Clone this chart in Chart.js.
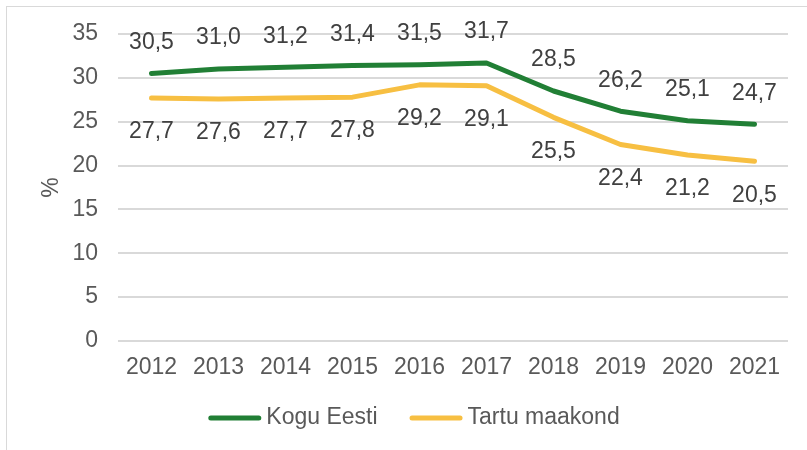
<!DOCTYPE html>
<html>
<head>
<meta charset="utf-8">
<script src="https://cdn.jsdelivr.net/npm/chart.js@4"></script>
<style>
  html, body { margin: 0; padding: 0; background: #fff; overflow: hidden; }
  #wrap { position: relative; width: 807px; height: 450px; }
  #frame { position: absolute; left: 6px; top: 6px; width: 820px; height: 460px; border: 1px solid #d9d9d9; }
  canvas { position: absolute; left: 0; top: 0; }
</style>
</head>
<body>
<div id="wrap">
  <div id="frame"></div>
  <canvas id="chart" width="807" height="450"></canvas>
</div>
<script>
const aastad = ['2012', '2013', '2014', '2015', '2016', '2017', '2018', '2019', '2020', '2021'];
const koguEesti = [30.5, 31.0, 31.2, 31.4, 31.5, 31.7, 28.5, 26.2, 25.1, 24.7];
const tartuMaakond = [27.7, 27.6, 27.7, 27.8, 29.2, 29.1, 25.5, 22.4, 21.2, 20.5];
const yTicks = [0, 5, 10, 15, 20, 25, 30, 35];

const fontFamily = '"Liberation Sans", Arial, sans-serif';
const fontSize = 23;

// Väärtuste sildid (roheline üleval, kollane all)
const siltidePlugin = {
    id: 'sildid',
    afterDatasetsDraw(chart) {
        const ctx = chart.ctx;
        ctx.save();
        ctx.font = fontSize + 'px ' + fontFamily;
        ctx.fillStyle = '#404040';
        ctx.textAlign = 'center';
        ctx.textBaseline = 'middle';
        chart.data.datasets.forEach((ds, i) => {
            const meta = chart.getDatasetMeta(i);
            meta.data.forEach((pt, j) => {
                const nihe = i === 0 ? -31 : 34;
                ctx.fillText(ds.data[j].toFixed(1).replace('.', ','), pt.x, pt.y + nihe);
            });
        });
        ctx.restore();
    }
};

// Legend käsitsi, et joon ja tekst oleks nagu Excelis
const legendPlugin = {
    id: 'legendKasitsi',
    afterDraw(chart) {
        const ctx = chart.ctx;
        ctx.save();
        ctx.font = fontSize + 'px ' + fontFamily;
        ctx.textBaseline = 'middle';
        ctx.textAlign = 'left';
        const joon = 53, vahe = 5, samm = 32;
        const laiused = chart.data.datasets.map(ds => ctx.measureText(ds.label).width);
        let kokku = 0;
        laiused.forEach((w, i) => { kokku += joon + vahe + w + (i > 0 ? samm : 0); });
        let x = 414 - kokku / 2;
        const y = 418;
        chart.data.datasets.forEach((ds, i) => {
            ctx.strokeStyle = ds.borderColor;
            ctx.lineWidth = 5;
            ctx.lineCap = 'round';
            ctx.beginPath();
            ctx.moveTo(x + 2.5, y);
            ctx.lineTo(x + joon - 2.5, y);
            ctx.stroke();
            ctx.fillStyle = '#595959';
            ctx.fillText(ds.label, x + joon + vahe, y);
            x += joon + vahe + laiused[i] + samm;
        });
        ctx.restore();
    }
};

const ctx = document.getElementById('chart').getContext('2d');
new Chart(ctx, {
    type: 'line',
    data: {
        labels: aastad,
        datasets: [{
            label: 'Kogu Eesti',
            data: koguEesti,
            borderColor: '#217f35',
            backgroundColor: '#217f35',
            borderWidth: 5,
            pointRadius: 0,
            tension: 0,
            borderCapStyle: 'round',
            borderJoinStyle: 'round'
        }, {
            label: 'Tartu maakond',
            data: tartuMaakond,
            borderColor: '#f7bf42',
            backgroundColor: '#f7bf42',
            borderWidth: 5,
            pointRadius: 0,
            tension: 0,
            borderCapStyle: 'round',
            borderJoinStyle: 'round'
        }]
    },
    options: {
        responsive: false,
        animation: false,
        layout: { padding: { top: 34, right: 19, bottom: 0, left: 0 } },
        scales: {
            x: {
                offset: true,
                grid: { display: false, drawTicks: false },
                border: { display: false },
                ticks: { color: '#595959', font: { size: fontSize, family: fontFamily }, padding: 13, maxRotation: 0 },
                afterFit: (scale) => { scale.height = 109; }
            },
            y: {
                min: 0,
                max: 35,
                afterBuildTicks: (scale) => { scale.ticks = yTicks.map(v => ({ value: v })); },
                grid: { color: '#d9d9d9', lineWidth: 2, drawTicks: false },
                border: { display: false },
                ticks: { color: '#595959', font: { size: fontSize, family: fontFamily }, padding: 20 },
                title: { display: true, text: '%', color: '#595959', font: { size: fontSize, family: fontFamily }, padding: { top: 38, bottom: 0 } },
                afterFit: (scale) => { scale.width = 118; }
            }
        },
        plugins: {
            legend: { display: false },
            tooltip: { enabled: false }
        }
    },
    plugins: [siltidePlugin, legendPlugin]
});
</script>
</body>
</html>
